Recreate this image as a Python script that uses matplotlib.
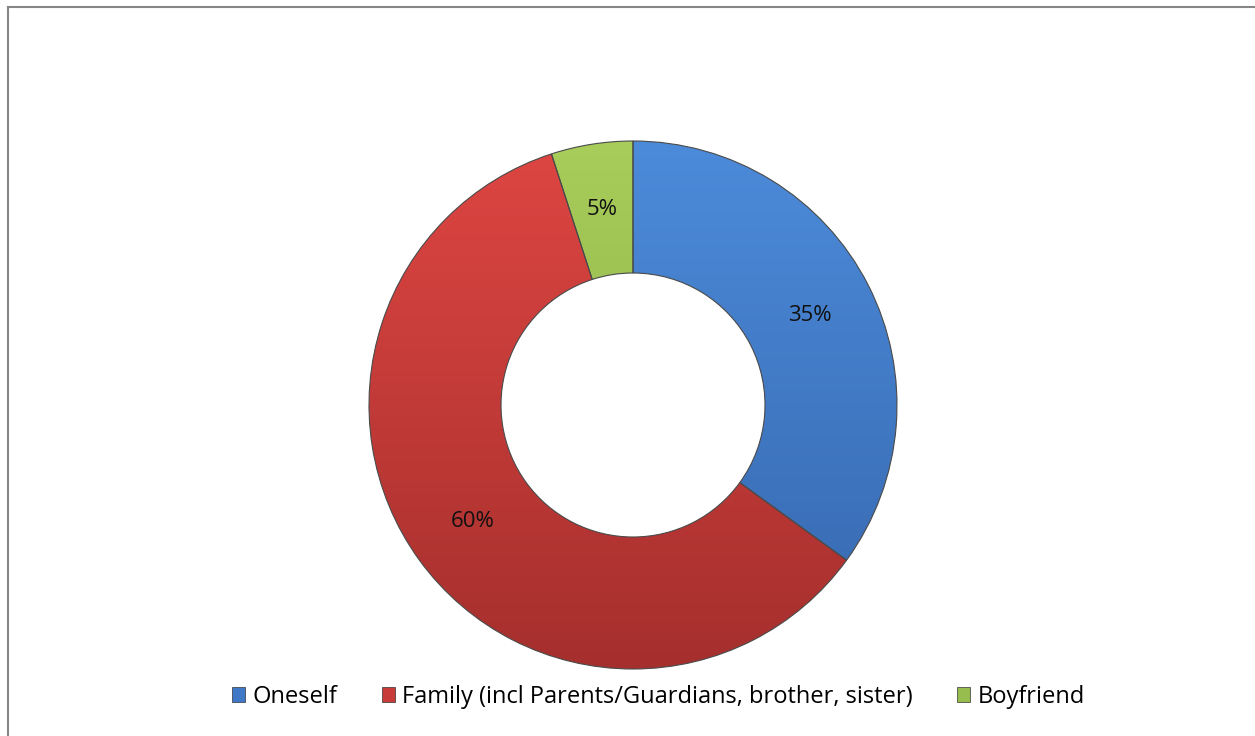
import matplotlib
matplotlib.use('Agg')
import matplotlib.pyplot as plt
import numpy as np
from matplotlib.colors import LinearSegmentedColormap
from matplotlib.patches import Patch
from matplotlib.lines import Line2D

categories = ['Oneself', 'Family (incl Parents/Guardians, brother, sister)', 'Boyfriend']
values = [35, 60, 5]
top_colors = ['#4C8BDA', '#DE4642', '#A8CD5A']
bottom_colors = ['#3667AE', '#A52F2D', '#86A843']
legend_colors = ['#3F78C6', '#C93B38', '#98BD4F']

plt.rcParams['font.family'] = ['Open Sans', 'DejaVu Sans']

W, H = 1255, 736
fig = plt.figure(figsize=(W / 100, H / 100), dpi=100)
cx, cy, R = 633, 405, 264
ax = fig.add_axes([(cx - R) / W, (H - cy - R) / H, 2 * R / W, 2 * R / H])

wedges, texts, autotexts = ax.pie(
    values, startangle=90, counterclock=False, radius=1,
    wedgeprops=dict(width=0.5, linewidth=0.8, edgecolor='#4a4a4a'),
    autopct=lambda p: f'{p:.0f}%', pctdistance=0.75,
    textprops=dict(fontsize=16, color='#111111'))

grad = np.linspace(1, 0, 256).reshape(-1, 1)
for w, tc, bc in zip(wedges, top_colors, bottom_colors):
    cmap = LinearSegmentedColormap.from_list('g', [bc, tc])
    im = ax.imshow(grad, extent=[-1, 1, -1, 1], cmap=cmap, aspect='auto',
                   origin='upper', zorder=2, interpolation='bilinear')
    im.set_clip_path(w)
    w.set_facecolor('none')
    w.set_zorder(3)
for t in autotexts:
    t.set_zorder(4)

ax.set_xlim(-1, 1)
ax.set_ylim(-1, 1)
ax.set_aspect('equal')
ax.axis('off')

handles = [Patch(facecolor=c, edgecolor='#333333', linewidth=0.5) for c in legend_colors]
fig.legend(handles=handles, labels=categories, loc='center',
           bbox_to_anchor=((227 + 1090) / 2 / W, (H - 697) / H), ncol=3,
           frameon=False, fontsize=17, handlelength=0.55, handleheight=0.6,
           handletextpad=0.3, columnspacing=1.9)

fig.add_artist(Line2D([7.5 / W, 7.5 / W], [0, (H - 6.5) / H], color='#868686', lw=1.5))
fig.add_artist(Line2D([7.5 / W, 1], [(H - 6.5) / H, (H - 6.5) / H], color='#868686', lw=1.5))

fig.savefig('out.png', dpi=100, facecolor='white')
